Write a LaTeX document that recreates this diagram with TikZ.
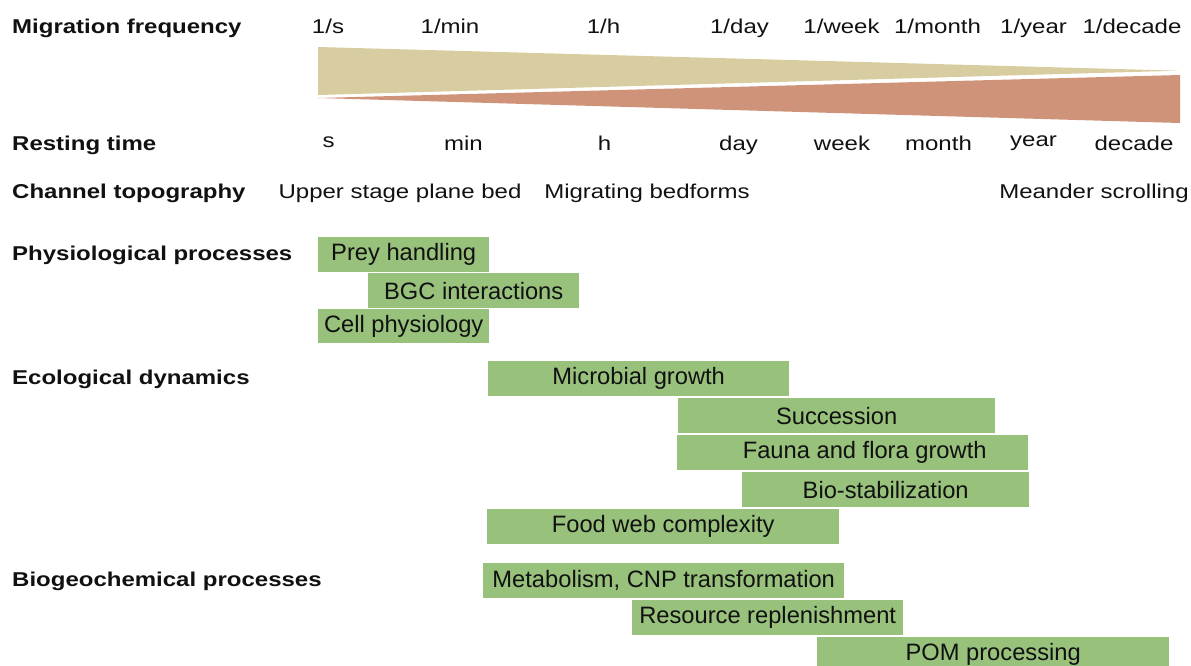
\documentclass[tikz,border=0pt]{standalone}
\usepackage{fontspec}
\setmainfont{Liberation Sans}
\newfontfamily\labfont[FakeStretch=1.2]{Liberation Sans}
\definecolor{wedgeGold}{HTML}{D7CDA0}
\definecolor{wedgeRed}{HTML}{CF937A}
\definecolor{barGreen}{HTML}{98C17C}
\definecolor{ink}{HTML}{111111}
\begin{document}
\begin{tikzpicture}[x=1pt,y=-1pt,
  lab/.style={font=\labfont\fontsize{20}{24}\selectfont, anchor=base, inner sep=0pt, text=ink},
  head/.style={font=\labfont\bfseries\fontsize{20}{24}\selectfont, anchor=base west, inner sep=0pt, text=ink},
  bar/.style={fill=barGreen, anchor=north west, inner sep=0pt, text=ink,
    font=\fontsize{23.7}{28}\selectfont},
]
\useasboundingbox (0,0) rectangle (1191,665);

% wedges
\fill[wedgeGold] (318,47) -- (1178,70.7) -- (318,95) -- cycle;
\fill[wedgeRed] (318,98) -- (1180,75) -- (1180,123) -- cycle;

% row headings
\node[head] (hMig) at (12,33.5) {Migration frequency};
\node[head] (hRest) at (12,150) {Resting time};
\node[head] (hChan) at (12,198.5) {Channel topography};
\node[head] (hPhys) at (12,260) {Physiological processes};
\node[head] (hEco) at (12,384) {Ecological dynamics};
\node[head] (hBio) at (12,586) {Biogeochemical processes};

% migration frequency
\node[lab] (f1) at (328,33.5) {1/s};
\node[lab] (f2) at (450,33.5) {1/min};
\node[lab] (f3) at (603.5,33.5) {1/h};
\node[lab] (f4) at (739.5,33.5) {1/day};
\node[lab] (f5) at (841.5,33.5) {1/week};
\node[lab] (f6) at (937.5,33.5) {1/month};
\node[lab] (f7) at (1033.5,33.5) {1/year};
\node[lab] (f8) at (1132,33.5) {1/decade};

% resting time
\node[lab] (r1) at (328.5,147) {s};
\node[lab] (r2) at (463.5,150) {min};
\node[lab] (r3) at (604.5,150) {h};
\node[lab] (r4) at (738.5,150) {day};
\node[lab] (r5) at (842,150) {week};
\node[lab] (r6) at (938.5,150) {month};
\node[lab] (r7) at (1033.5,146) {year};
\node[lab] (r8) at (1134,150) {decade};

% channel topography
\node[lab] (c1) at (400,198.5) {Upper stage plane bed};
\node[lab] (c2) at (647,198.5) {Migrating bedforms};
\node[lab] (c3) at (1094,198.5) {Meander scrolling};

% physiological processes
\node[bar, minimum width=171pt, minimum height=35pt] (prey) at (318,237) {Prey handling};
\node[bar, minimum width=211pt, minimum height=35pt] (bgc) at (368,273) {BGC interactions};
\node[bar, minimum width=171pt, minimum height=34pt] (cell) at (318,309) {Cell physiology};

% ecological dynamics
\node[bar, minimum width=301pt, minimum height=35pt] (micro) at (488,361) {Microbial growth};
\node[bar, minimum width=317pt, minimum height=35pt] (succ) at (678,398) {Succession};
\node[bar, minimum width=351pt, minimum height=35pt] (fauna) at (677,435) {\hspace*{24pt}Fauna and flora growth};
\node[bar, minimum width=287pt, minimum height=35pt] (biostab) at (742,472) {Bio-stabilization};
\node[bar, minimum width=352pt, minimum height=35pt] (food) at (487,509) {Food web complexity};

% biogeochemical processes
\node[bar, minimum width=361pt, minimum height=35pt] (meta) at (483,563) {Metabolism, CNP transformation};
\node[bar, minimum width=271pt, minimum height=35pt] (res) at (632,600) {Resource replenishment};
\node[bar, minimum width=352pt, minimum height=35pt] (pom) at (817,637) {POM processing};
\end{tikzpicture}
\end{document}
